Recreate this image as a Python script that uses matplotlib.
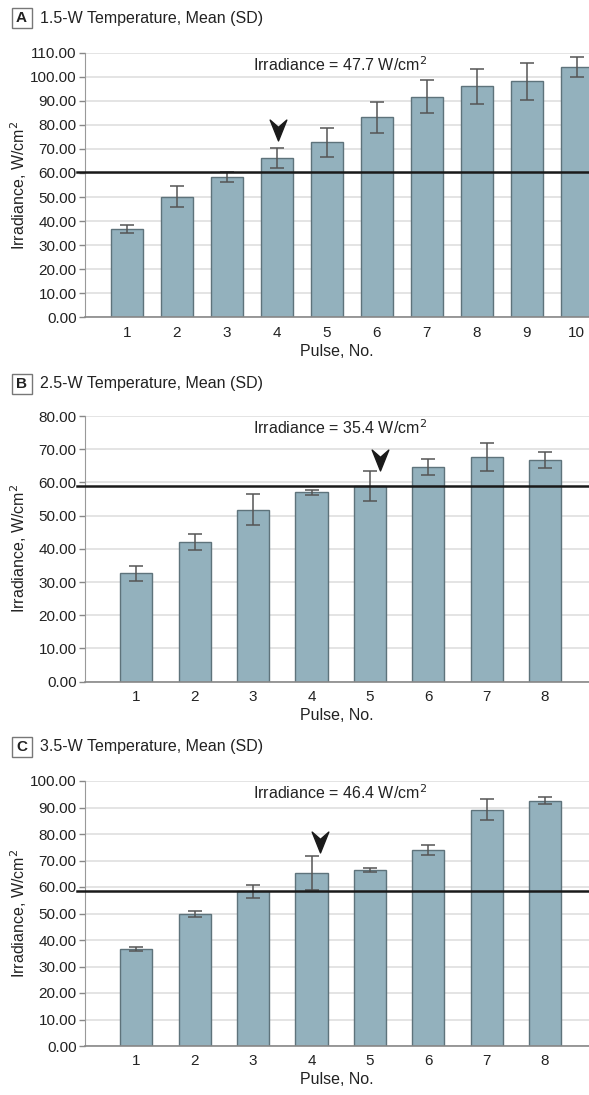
import matplotlib
matplotlib.use("Agg")
import matplotlib.pyplot as plt
import numpy as np
from matplotlib.path import Path
from matplotlib.patches import Rectangle

plt.rcParams.update(
    {
        "font.family": ["Liberation Sans", "DejaVu Sans"],
        "font.size": 11,
        "axes.labelsize": 11.5,
        "xtick.labelsize": 11,
        "ytick.labelsize": 11,
    }
)

# panel A: 1.5 W
a_pulses = [1, 2, 3, 4, 5, 6, 7, 8, 9, 10]
a_means = [36.8, 50.1, 58.2, 66.3, 72.7, 83.1, 91.7, 96.1, 98.1, 104.0]
a_sd = [1.6, 4.4, 2.0, 4.2, 5.9, 6.3, 6.9, 7.3, 7.6, 4.3]
a_threshold = 60.2
a_arrow = (4.02, 78.0)

# panel B: 2.5 W
b_pulses = [1, 2, 3, 4, 5, 6, 7, 8]
b_means = [32.6, 42.1, 51.8, 57.0, 58.9, 64.6, 67.6, 66.7]
b_sd = [2.2, 2.3, 4.6, 0.8, 4.5, 2.4, 4.3, 2.5]
b_threshold = 58.9
b_arrow = (5.18, 66.8)

# panel C: 3.5 W
c_pulses = [1, 2, 3, 4, 5, 6, 7, 8]
c_means = [36.6, 49.9, 58.4, 65.3, 66.4, 74.0, 89.1, 92.6]
c_sd = [0.6, 1.2, 2.5, 6.3, 0.6, 2.0, 4.0, 1.4]
c_threshold = 58.4
c_arrow = (4.15, 77.0)

panels = [
    ("A", "1.5-W Temperature, Mean (SD)", "Irradiance = 47.7 W/cm$^2$",
     a_pulses, a_means, a_sd, a_threshold, a_arrow, 110),
    ("B", "2.5-W Temperature, Mean (SD)", "Irradiance = 35.4 W/cm$^2$",
     b_pulses, b_means, b_sd, b_threshold, b_arrow, 80),
    ("C", "3.5-W Temperature, Mean (SD)", "Irradiance = 46.4 W/cm$^2$",
     c_pulses, c_means, c_sd, c_threshold, c_arrow, 100),
]

W, H = 589, 1095
fig = plt.figure(figsize=(W / 100, H / 100), dpi=100)

# axes boxes in pixels: (zero line y, top gridline y, title centre y)
boxes = [(317.3, 52.7, 18.3), (681.7, 416.0, 383.7), (1046.0, 781.0, 747.0)]
# x layout in pixels: axis left, first bar centre, bar spacing, bar width
xlayout = [(85, 126.8, 50.0, 0.63), (85, 136.3, 58.4, 0.55), (85, 136.3, 58.4, 0.55)]

bar_color = "#93b1bd"
edge_color = "#5e737b"
text_color = "#222222"

chevron = Path([(0, -1), (-0.8, 1), (0, 0.3), (0.8, 1), (0, -1)],
               [Path.MOVETO, Path.LINETO, Path.LINETO, Path.LINETO, Path.CLOSEPOLY])

for (letter, title, irr, pulses, means, sd, thr, arrow, ymax), (y0, y1, ty), (xl, c1, sp, bw) in zip(panels, boxes, xlayout):
    ax = fig.add_axes([xl / W, 1 - y0 / H, 1 - xl / W, (y0 - y1) / H])
    ax.set_xlim(1 - (c1 - xl) / sp, 1 + (W - c1) / sp)
    ax.set_ylim(0, ymax)

    ax.bar(pulses, means, bw, color=bar_color, edgecolor=edge_color, linewidth=1.0, zorder=2)
    ax.errorbar(pulses, means, yerr=sd, fmt="none", ecolor="#555555", elinewidth=1.1,
                capsize=5, capthick=1.1, zorder=3, clip_on=False)
    ax.axhline(thr, xmin=-0.015, xmax=1, color="#1a1a1a", linewidth=1.8, zorder=4, clip_on=False)

    ax.plot([arrow[0]], [arrow[1]], marker=chevron, markersize=15, color="#1a1a1a",
            linestyle="none", zorder=5, clip_on=False)

    ax.text(0.506, 1 - 11.5 / (y0 - y1) * 1.05, irr, transform=ax.transAxes,
            ha="center", va="center", fontsize=11.5, color=text_color)

    ax.set_yticks(np.arange(0, ymax + 1, 10))
    ax.yaxis.set_major_formatter(matplotlib.ticker.FormatStrFormatter("%.2f"))
    ax.set_xticks(pulses)
    ax.tick_params(axis="x", length=0, pad=6, colors=text_color)
    ax.tick_params(axis="y", length=4, width=1, color="#888888", pad=2, colors=text_color)
    ax.yaxis.grid(True, color="#e4e4e4", linewidth=1.4, zorder=0)
    ax.set_axisbelow(True)
    for s in ["top", "right"]:
        ax.spines[s].set_visible(False)
    ax.spines["left"].set_color("#999999")
    ax.spines["bottom"].set_color("#888888")
    ax.spines["bottom"].set_linewidth(1.2)
    ax.set_ylabel("Irradiance, W/cm$^2$", color=text_color, va="center")
    ax.yaxis.set_label_coords((19 - xl) / (W - xl), 0.5)
    ax.set_xlabel("Pulse, No.", color=text_color, labelpad=3)

    # panel letter box and title
    fig.patches.append(Rectangle((11.5 / W, 1 - (ty + 10) / H), 20 / W, 20 / H,
                                 transform=fig.transFigure, fill=False,
                                 edgecolor="#777777", linewidth=1.0))
    fig.text(21.5 / W, 1 - ty / H, letter, ha="center", va="center",
             fontsize=11, fontweight="bold", color=text_color)
    fig.text(40 / W, 1 - ty / H, title, ha="left", va="center", fontsize=11.5, color=text_color)

fig.savefig("out.png", dpi=100)
